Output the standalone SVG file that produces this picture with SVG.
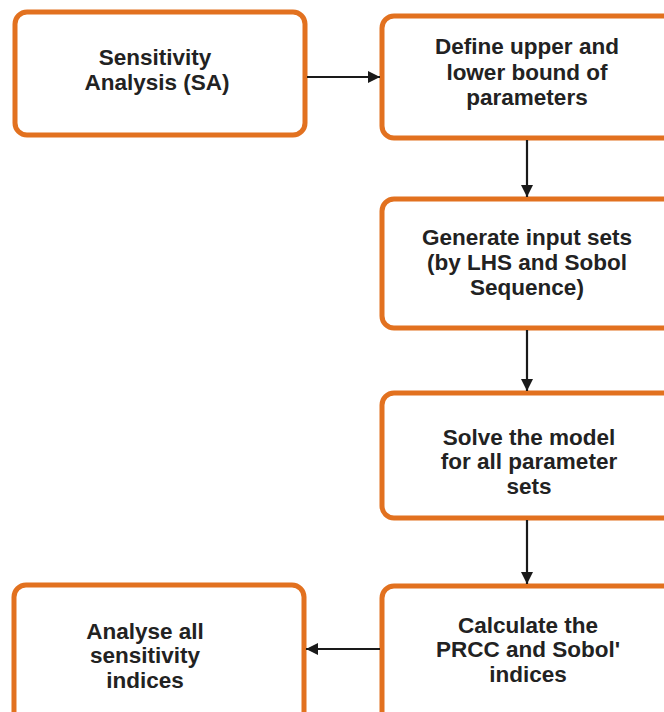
<svg xmlns="http://www.w3.org/2000/svg" width="664" height="712" viewBox="0 0 664 712">
<defs>
<marker id="ah" viewBox="0 0 10 10" refX="10" refY="5" markerWidth="12" markerHeight="12" markerUnits="userSpaceOnUse" orient="auto">
<path d="M0,0 L10,5 L0,10 z" fill="#1a1a1a"/>
</marker>
<style>
.box{fill:#fff;stroke:#e2711f;stroke-width:5}
.t{font-family:"Liberation Sans",Arial,sans-serif;font-weight:bold;font-size:22.5px;fill:#222;text-anchor:middle}
.c{stroke:#1a1a1a;stroke-width:2.2;fill:none;marker-end:url(#ah)}
</style>
</defs>
<rect width="664" height="712" fill="#fff"/>
<g id="n1"><rect class="box" x="15" y="12" width="290" height="123" rx="12"/>
<text class="t" x="155" y="65">Sensitivity</text><text class="t" x="157" y="90">Analysis (SA)</text></g>
<g id="n2"><rect class="box" x="382" y="16" width="300" height="122" rx="12"/>
<text class="t" x="527" y="54">Define upper and</text><text class="t" x="527" y="80">lower bound of</text><text class="t" x="527" y="105">parameters</text></g>
<g id="n3"><rect class="box" x="382" y="199" width="300" height="129" rx="12"/>
<text class="t" x="527" y="245">Generate input sets</text><text class="t" x="527" y="270">(by LHS and Sobol</text><text class="t" x="527" y="295">Sequence)</text></g>
<g id="n4"><rect class="box" x="382" y="393" width="300" height="125" rx="12"/>
<text class="t" x="529" y="445">Solve the model</text><text class="t" x="529" y="469">for all parameter</text><text class="t" x="529" y="494">sets</text></g>
<g id="n5"><rect class="box" x="382" y="586" width="300" height="140" rx="12"/>
<text class="t" x="528" y="633">Calculate the</text><text class="t" x="528" y="657">PRCC and Sobol'</text><text class="t" x="528" y="682">indices</text></g>
<g id="n6"><rect class="box" x="14" y="585" width="290" height="140" rx="12"/>
<text class="t" x="145" y="639">Analyse all</text><text class="t" x="145" y="663">sensitivity</text><text class="t" x="145" y="688">indices</text></g>
<g id="connectors">
<line class="c" x1="307" y1="77" x2="380" y2="77"/>
<line class="c" x1="527" y1="140" x2="527" y2="197"/>
<line class="c" x1="527" y1="330" x2="527" y2="391"/>
<line class="c" x1="527" y1="520" x2="527" y2="584"/>
<line class="c" x1="380" y1="649" x2="306" y2="649"/>
</g>
</svg>
